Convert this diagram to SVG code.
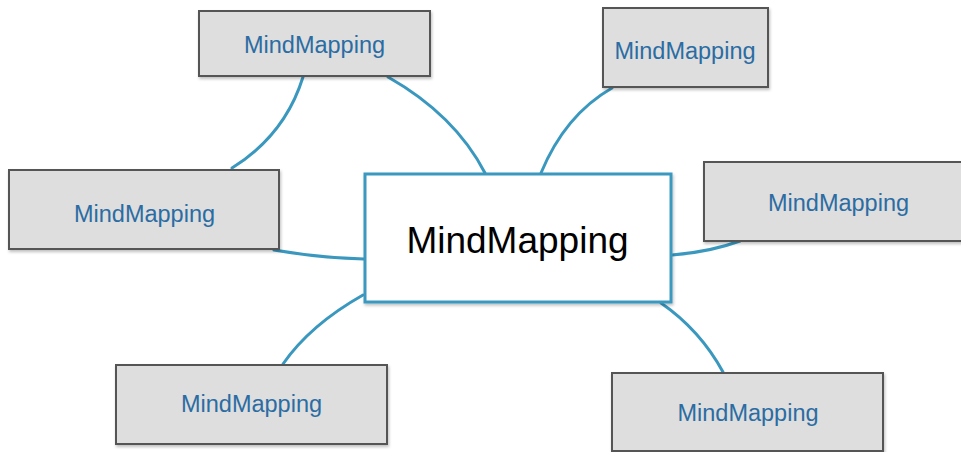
<svg xmlns="http://www.w3.org/2000/svg" width="961" height="452" viewBox="0 0 961 452">
  <style>
    .topic rect { fill: #dedede; stroke: #555555; stroke-width: 2; filter: url(#shadow); }
    .topic text { font-family: "Liberation Sans", Arial, sans-serif; font-size: 23.5px; fill: #2b6ca3; text-anchor: middle; }
    .root rect { fill: #ffffff; stroke: #3a98bf; stroke-width: 3; filter: url(#shadow); }
    .root text { font-family: "Liberation Sans", Arial, sans-serif; font-size: 37px; fill: #000000; text-anchor: middle; }
    #connectors path { fill: none; stroke: #3a98bf; stroke-width: 3; stroke-linecap: round; }
  </style>
  <defs>
    <filter id="shadow" x="-10%" y="-10%" width="125%" height="130%">
      <feDropShadow dx="1" dy="2" stdDeviation="1.5" flood-color="#000000" flood-opacity="0.25"/>
    </filter>
  </defs>
  <rect width="961" height="452" fill="#ffffff"/>

  <!-- branch lines from the central topic -->
  <g id="connectors">
    <path d="M303,77 Q285,135 232,168"/>
    <path d="M388,77 Q455,115 485,173"/>
    <path d="M541,173 Q565,115 612,88"/>
    <path d="M274,250 Q320,258 364,259"/>
    <path d="M363,295 Q310,325 283,364"/>
    <path d="M661,303 Q700,330 723,372"/>
    <path d="M672,255 Q710,252 740,241"/>
  </g>

  <g id="root" class="root">
    <rect x="365" y="174" width="306" height="128"/>
    <text x="517.5" y="253">MindMapping</text>
  </g>

  <g id="topic-top-left" class="topic">
    <rect x="199" y="11" width="231" height="65"/>
    <text x="314.5" y="53">MindMapping</text>
  </g>

  <g id="topic-left" class="topic">
    <rect x="9" y="170" width="270" height="79"/>
    <text x="144.5" y="222">MindMapping</text>
  </g>

  <g id="topic-bottom-left" class="topic">
    <rect x="116" y="365" width="271" height="79"/>
    <text x="251.5" y="412">MindMapping</text>
  </g>

  <g id="topic-top-right" class="topic">
    <rect x="603" y="8" width="165" height="79"/>
    <text x="685" y="59">MindMapping</text>
  </g>

  <g id="topic-right" class="topic">
    <rect x="704" y="162" width="262" height="79"/>
    <text x="838.5" y="211">MindMapping</text>
  </g>

  <g id="topic-bottom-right" class="topic">
    <rect x="612" y="373" width="271" height="78"/>
    <text x="748" y="421">MindMapping</text>
  </g>
</svg>
